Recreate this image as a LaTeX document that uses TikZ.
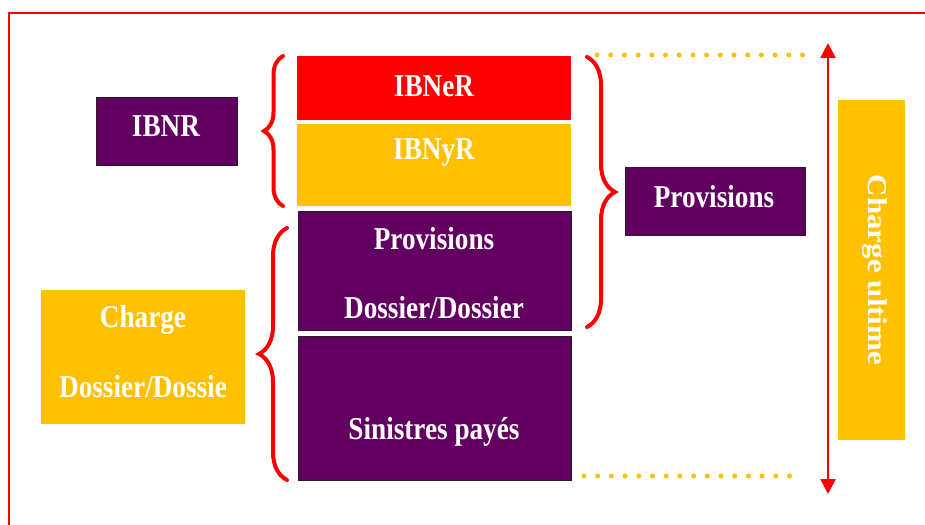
\documentclass[tikz,border=0pt]{standalone}
\usepackage{fontspec}
\setmainfont{Liberation Serif}
\usetikzlibrary{decorations.pathreplacing,arrows.meta}
\definecolor{plum}{HTML}{620062}
\definecolor{gold}{HTML}{FFC000}
\definecolor{brightred}{HTML}{FF0000}
\definecolor{edgegray}{HTML}{222222}
% bold serif label, slightly tall
\newcommand{\lbl}[1]{\scalebox{1}[1.17]{#1}}
\tikzset{
  box/.style={draw=none,inner sep=0pt,minimum width=#1},
  plumbox/.style={fill=plum,draw=edgegray,line width=0.9pt},
  goldbox/.style={fill=gold},
  redbox/.style={fill=brightred},
  txt/.style={text=white,font=\fontsize{27.2}{32}\selectfont\bfseries,inner sep=0pt,anchor=center},
  curly/.style={draw=brightred,line width=4pt,line cap=round,decorate,
     decoration={brace,amplitude=#1,aspect=0.5}},
  dotline/.style={draw=gold,line width=5pt,line cap=round,dash pattern=on 0pt off 13.7pt},
}
\begin{document}
\begin{tikzpicture}[x=1pt,y=-1pt]
\useasboundingbox (0,0) rectangle (925,524);
% outer frame (runs off the right and bottom edges)
\draw[brightred,line width=2.2pt] (930,13) -- (9,13) -- (9,530);

% stacked blocks
\path[redbox]  (297,56) rectangle (571,120);
\node[box=0pt] (ibner) at (434,88) {};
\path[goldbox] (297,124) rectangle (571,206);
\node[box=0pt] (ibnyr) at (434,165) {};
\path[plumbox] (298,211) rectangle (571,330);
\node[box=0pt] (provdd) at (434,270) {};
\path[plumbox] (298,336) rectangle (571,480);
\node[box=0pt] (sinistres) at (434,408) {};

\node[txt] at (434,86) {\lbl{IBNeR}};
\node[txt] at (434,153) {\lbl{IBNyR}};
\node[txt] at (434,239) {\lbl{Provisions}};
\node[txt] at (434,308) {\lbl{Dossier/Dossier}};
\node[txt] at (434,432) {\lbl{Sinistres payés}};

% left side blocks
\path[plumbox] (96,97) rectangle (237,165);
\node[box=0pt] (ibnr) at (166,131) {};
\node[txt] at (166,126) {\lbl{IBNR}};
\path[goldbox] (41,290) rectangle (245,424);
\node[box=0pt] (chargedd) at (143,357) {};
\node[txt] at (143,320) {\lbl{Charge}};
\node[txt] at (143,387) {\lbl{Dossier/Dossie}};

% right side blocks
\path[plumbox] (625,167) rectangle (805,235);
\node[box=0pt] (prov) at (715,201) {};
\node[txt] at (714,197) {\lbl{Provisions}};
\path[goldbox] (838,100) rectangle (905,440);
\node[box=0pt] (ultime) at (871,270) {};
\node[txt,rotate=-90] at (875,270) {\scalebox{1.14}[1]{Charge ultime}};

% braces
\draw[curly=19pt] (283,206) -- (283,56);
\draw[curly=28pt] (287,480) -- (287,228);
\draw[curly=28pt] (587,57) -- (587,327);

% dotted guides
\coordinate (dt1) at (597,55);
\coordinate (dt2) at (806,55);
\coordinate (db1) at (584,476);
\coordinate (db2) at (793,476);
\draw[dotline] (dt1) -- (dt2);
\draw[dotline] (db1) -- (db2);

% total span arrow
\coordinate (atop) at (828,43);
\coordinate (abot) at (828,494);
\draw[brightred,line width=2.6pt,{Triangle[width=15pt,length=15pt]}-{Triangle[width=15pt,length=15pt]}] (atop) -- (abot);
\end{tikzpicture}
\end{document}
